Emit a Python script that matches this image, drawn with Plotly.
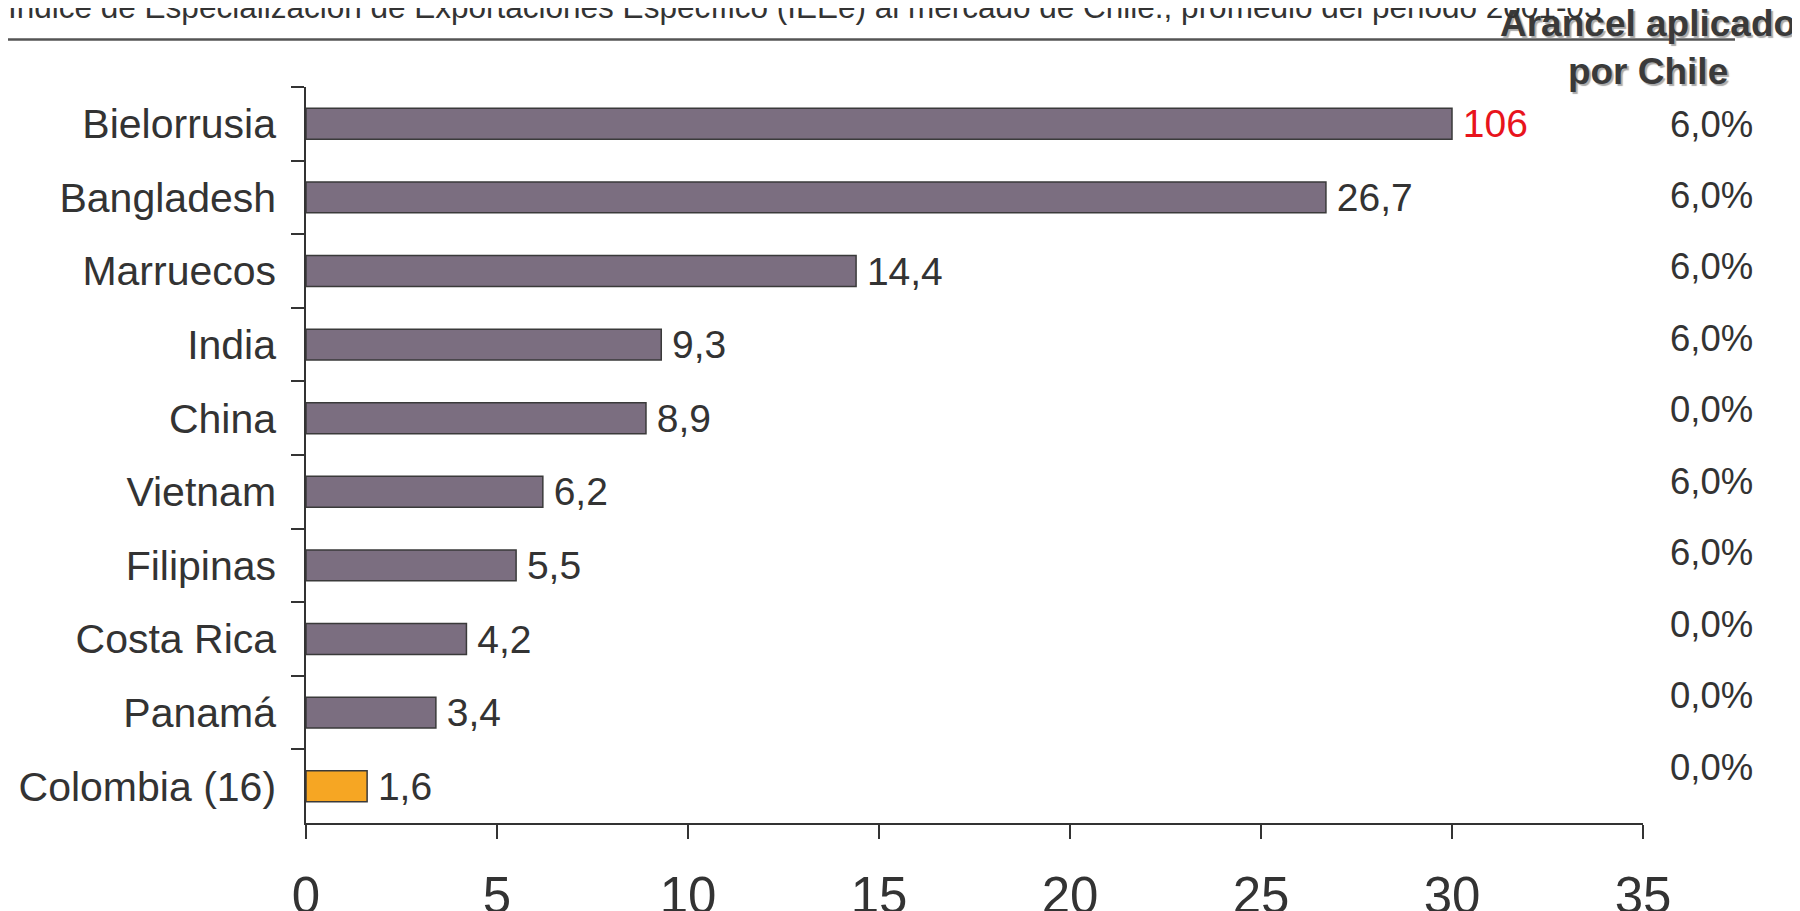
import plotly.graph_objects as go

# ---------------- data ----------------
countries = ["Bielorrusia", "Bangladesh", "Marruecos", "India", "China",
             "Vietnam", "Filipinas", "Costa Rica", "Panamá", "Colombia (16)"]
ieee_values = [106, 26.7, 14.4, 9.3, 8.9, 6.2, 5.5, 4.2, 3.4, 1.6]
value_labels = ["106", "26,7", "14,4", "9,3", "8,9", "6,2", "5,5", "4,2", "3,4", "1,6"]
tariffs = ["6,0%", "6,0%", "6,0%", "6,0%", "0,0%", "6,0%", "6,0%", "0,0%", "0,0%", "0,0%"]
x_ticks = [0, 5, 10, 15, 20, 25, 30, 35]
axis_cap = 30          # bars above this value are drawn truncated
highlight = "Colombia (16)"
title_text = ("Índice de Especialización de Exportaciones Específico (IEEe) al mercado de Chile., "
              "promedio del periodo 2001-05")
tariff_header = "Arancel aplicado<br>por Chile"

# ---------------- layout constants ----------------
OFF = 8                      # page body margin of the browser
W, H = 1800 - OFF, 911 - OFF
# plot area in screen pixels
SL, SR, ST, SB = 306, 1643, 87, 823
L, R, T, B = SL - OFF, SR - OFF, ST - OFF, SB - OFF
PW, PH = R - L, B - T

def sx(px):  # screen x -> paper
    return (px - OFF - L) / PW

def sy(py):  # screen y -> paper
    return (B - (py - OFF)) / PH

BAR = "#7b6e80"
ORANGE = "#f6a623"
DARK = "#333333"
FONT = "Liberation Sans, Arial, sans-serif"

bar_x = [min(v, axis_cap) for v in ieee_values]
colors = [ORANGE if c == highlight else BAR for c in countries]
text_colors = ["#e8141c" if v > axis_cap else DARK for v in ieee_values]

fig = go.Figure()
fig.add_trace(go.Bar(
    y=countries, x=bar_x, orientation="h",
    marker=dict(color=colors, line=dict(color="#3a3a3a", width=1.5)),
    text=value_labels, texttemplate="\u2009%{text}",
    textposition="outside", cliponaxis=False,
    constraintext="none",
    textfont=dict(family=FONT, size=39, color=text_colors),
    hoverinfo="skip",
))

annotations = []
# tariff column
first_y, last_y = 124, 767
step = (last_y - first_y) / (len(tariffs) - 1)
for i, t in enumerate(tariffs):
    annotations.append(dict(
        x=sx(1755), y=sy(first_y + i * step), xref="paper", yref="paper",
        text=t, showarrow=False, xanchor="right", yanchor="middle",
        font=dict(family=FONT, size=36.5, color=DARK),
    ))
# tariff header
annotations.append(dict(
    x=sx(1648), y=sy(1), xref="paper", yref="paper",
    text="<b>" + tariff_header + "</b>", showarrow=False,
    xanchor="center", yanchor="top", align="center",
    font=dict(family=FONT, size=37, color="#3a3a3a", shadow="2px 2px 1px #aaaaaa"),
))
# top title (cropped by the top edge, as in the original)
annotations.append(dict(
    x=sx(6), y=sy(27), xref="paper", yref="paper",
    text=title_text, showarrow=False, xanchor="left", yanchor="bottom",
    font=dict(family=FONT, size=31.5, color=DARK),
))

shapes = [dict(type="line", xref="paper", yref="paper",
               x0=sx(0), x1=sx(1735), y0=sy(39.5), y1=sy(39.5),
               line=dict(color="#555555", width=2.5))]

fig.update_layout(
    template="none",
    width=W, height=H,
    margin=dict(l=L, r=W - R, t=T, b=H - B, pad=0, autoexpand=False),
    plot_bgcolor="white", paper_bgcolor="white",
    showlegend=False, bargap=0.58,
    annotations=annotations, shapes=shapes,
    font=dict(family=FONT, color=DARK),
)
fig.update_xaxes(
    automargin=False,
    range=[0, 35], tickvals=x_ticks, ticktext=[str(v) for v in x_ticks],
    showgrid=False, zeroline=False, showline=True, linecolor=DARK, linewidth=1.5,
    ticks="outside", ticklen=14, tickwidth=1.5, tickcolor=DARK,
    tickfont=dict(family=FONT, size=51, color=DARK), ticklabelstandoff=13,
)
fig.update_yaxes(
    automargin=False,
    autorange="reversed", showgrid=False, zeroline=False,
    showline=True, linecolor=DARK, linewidth=1.5,
    ticks="outside", ticklen=13, tickwidth=1.5, tickcolor=DARK, tickson="boundaries",
    tickfont=dict(family=FONT, size=41, color=DARK), ticklabelstandoff=20,
)

fig.write_html("out.html")
